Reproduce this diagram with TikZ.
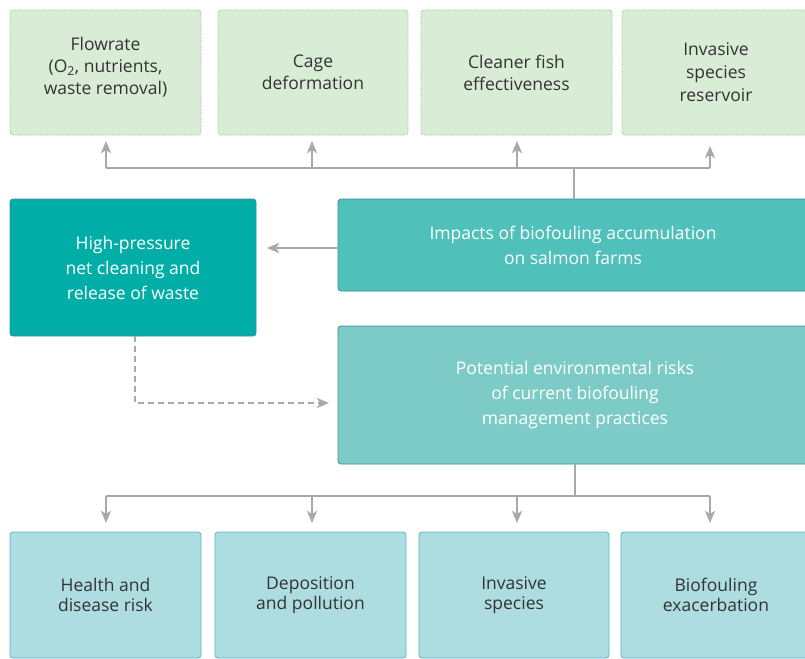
\documentclass[tikz,border=0pt]{standalone}
\usepackage{fontspec}
\setmainfont{Open Sans}
\usetikzlibrary{arrows.meta}
\definecolor{topfill}{HTML}{D9EDD6}
\definecolor{topline}{HTML}{8CC98A}
\definecolor{botfill}{HTML}{ADDCE1}
\definecolor{botline}{HTML}{4DB9C5}
\definecolor{hpfill}{HTML}{00AEA7}
\definecolor{impfill}{HTML}{4FC0BA}
\definecolor{potfill}{HTML}{7DCBC6}
\definecolor{darkline}{HTML}{3A8C9E}
\definecolor{conncol}{HTML}{A8A8AD}
\definecolor{txtdark}{HTML}{333333}
\tikzset{
  box/.style={rounded corners=3pt, inner sep=0pt, align=center,
    font={\fontsize{17.5}{22}\selectfont}},
  topbox/.style={box, fill=topfill, draw=topline, densely dotted, line width=0.8pt, text=txtdark},
  botbox/.style={box, fill=botfill, draw=botline, line width=0.8pt, text=txtdark,
    font={\fontsize{17.5}{20}\selectfont}},
  tealbox/.style={box, draw=darkline, line width=0.8pt, text=white,
    font={\fontsize{17.5}{25}\selectfont}},
  conn/.style={draw=conncol, line width=2.6pt},
  arr/.style={conn, -{Stealth[length=12pt,width=10pt,inset=3pt]}},
}
\begin{document}
\begin{tikzpicture}[x=1pt,y=-1pt]
\clip (0,0) rectangle (805,658);
\fill[white] (0,0) rectangle (805,658);
% top boxes
\node[topbox, minimum width=191, minimum height=125] (t1) at (105.5,72.5) {Flowrate\\(O\textsubscript{2}, nutrients,\\waste removal)\\[-8pt]\mbox{}};
\node[topbox, minimum width=190, minimum height=125] (t2) at (313,72.5) {Cage\\deformation};
\node[topbox, minimum width=191, minimum height=125] (t3) at (516.5,72.5) {Cleaner fish\\effectiveness};
\node[topbox, minimum width=188, minimum height=125, font={\fontsize{17.5}{23}\selectfont}] (t4) at (716,72.5) {Invasive\\species\\reservoir};
% middle
\node[tealbox, fill=hpfill, minimum width=246, minimum height=137] (hp) at (133,267.5) {High-pressure\\net cleaning and\\release of waste};
\node[tealbox, fill=impfill, minimum width=470, minimum height=92] (imp) at (573,245) {Impacts of biofouling accumulation\\on salmon farms};
\node[tealbox, fill=potfill, minimum width=474, minimum height=138] (pot) at (575,395) {Potential environmental risks\\of current biofouling\\management practices};
% bottom boxes
\node[botbox, minimum width=191, minimum height=126] (b1) at (105.5,595) {Health and\\disease risk};
\node[botbox, minimum width=191, minimum height=126] (b2) at (310.5,595) {Deposition\\and pollution};
\node[botbox, minimum width=190, minimum height=126] (b3) at (514,595) {Invasive\\species};
\node[botbox, minimum width=190, minimum height=126] (b4) at (716,595) {Biofouling\\exacerbation};
% top connectors
\coordinate (tj) at (574,168);
\coordinate (tl) at (106,168);
\coordinate (tr) at (710,168);
\draw[conn] (imp.north -| tj) -- (tj);
\draw[conn] (tl) -- (tr);
\coordinate (ta1) at (106,141);
\coordinate (ta2) at (312,141);
\coordinate (ta3) at (517,141);
\coordinate (ta4) at (710,146);
\draw[arr] (ta1 |- tl) -- (ta1);
\draw[arr] (ta2 |- tl) -- (ta2);
\draw[arr] (ta3 |- tl) -- (ta3);
\draw[arr] (ta4 |- tl) -- (ta4);
% left arrow
\coordinate (la) at (267,248);
\draw[arr] (imp.west |- la) -- (la);
% dashed
\coordinate (dc) at (135,403);
\coordinate (de) at (329,403);
\draw[arr, line width=2.2pt, dash pattern=on 6pt off 4pt] (hp.south -| dc) -- (dc) -- (de);
% bottom connectors
\coordinate (bj) at (575,496);
\coordinate (bl) at (106,496);
\coordinate (br) at (710,496);
\draw[conn] (pot.south -| bj) -- (bj);
\draw[conn] (bl) -- (br);
\coordinate (ba1) at (106,523);
\coordinate (ba2) at (312,523);
\coordinate (ba3) at (517,523);
\coordinate (ba4) at (710,523);
\draw[arr] (ba1 |- bl) -- (ba1);
\draw[arr] (ba2 |- bl) -- (ba2);
\draw[arr] (ba3 |- bl) -- (ba3);
\draw[arr] (ba4 |- bl) -- (ba4);
\end{tikzpicture}
\end{document}
